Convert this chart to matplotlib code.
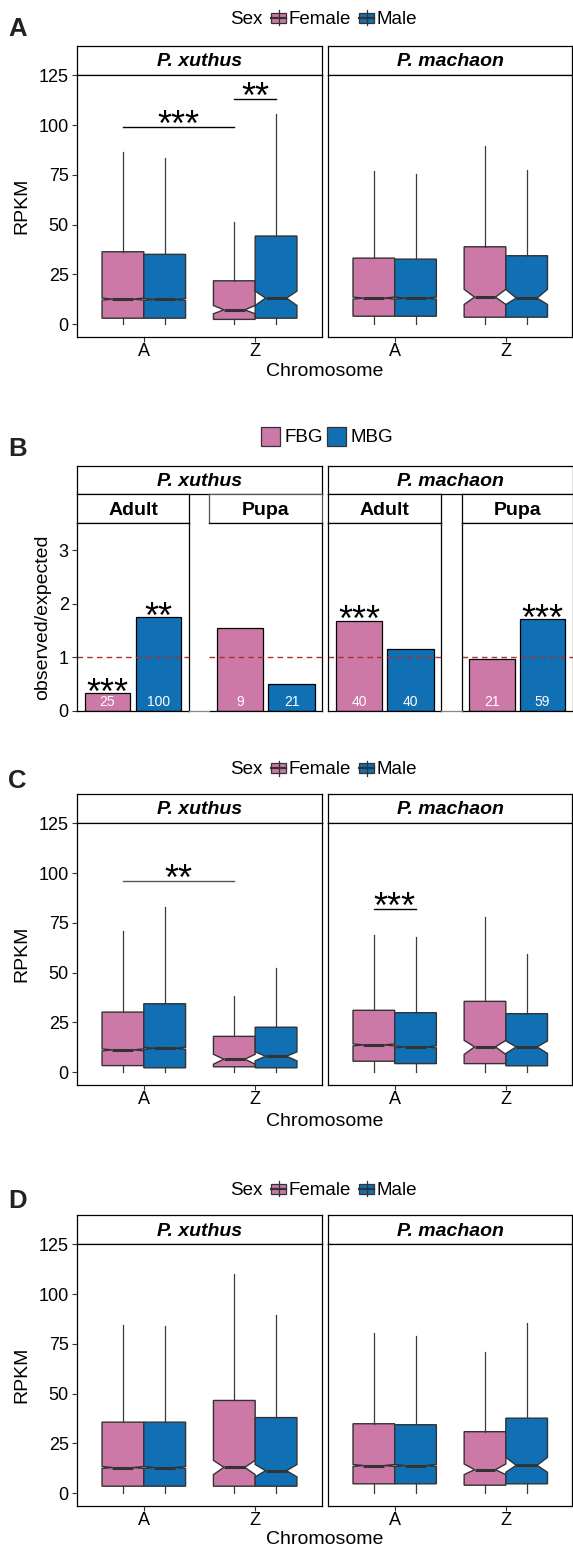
import matplotlib
matplotlib.use('Agg')
import matplotlib.pyplot as plt
from matplotlib.patches import Rectangle

plt.rcParams['font.family'] = ['Liberation Sans', 'DejaVu Sans']

# ---------------- data ----------------
chrom_labels = ['A', 'Z']
sex_labels = ['Female', 'Male']
species_names = ['P. xuthus', 'P. machaon']
stage_names = ['Adult', 'Pupa']
group_labels = ['FBG', 'MBG']
rpkm_ticks = [0, 25, 50, 75, 100, 125]
ratio_ticks = [0, 1, 2, 3]

# box order: A-Female, A-Male, Z-Female, Z-Male
# Panel A
A_xuthus_low = [0, 0, 0, 0]
A_xuthus_q1 = [3.0, 3.0, 2.4, 3.0]
A_xuthus_med = [12.6, 12.4, 7.2, 13.1]
A_xuthus_q3 = [36.4, 35.1, 21.8, 44.3]
A_xuthus_high = [86.3, 83.4, 51.2, 105.7]
A_xuthus_ci_lo = [12.1, 11.9, 5.2, 9.4]
A_xuthus_ci_hi = [13.1, 12.9, 9.4, 16.6]

A_machaon_low = [0, 0, 0, 0]
A_machaon_q1 = [4.0, 4.0, 3.5, 3.5]
A_machaon_med = [13.1, 13.1, 13.6, 13.1]
A_machaon_q3 = [33.2, 32.7, 38.9, 34.4]
A_machaon_high = [77.0, 75.7, 89.8, 77.7]
A_machaon_ci_lo = [12.6, 12.6, 9.9, 9.9]
A_machaon_ci_hi = [13.6, 13.6, 17.5, 17.5]

# Panel C
C_xuthus_low = [0, 0, 0, 0]
C_xuthus_q1 = [3.3, 2.2, 2.7, 2.2]
C_xuthus_med = [11.2, 12.0, 6.5, 8.0]
C_xuthus_q3 = [30.2, 34.4, 18.0, 22.6]
C_xuthus_high = [70.9, 83.2, 38.1, 52.3]
C_xuthus_ci_lo = [10.7, 11.5, 4.0, 5.7]
C_xuthus_ci_hi = [11.7, 12.5, 9.0, 10.2]

C_machaon_low = [0, 0, 0, 0]
C_machaon_q1 = [5.5, 4.3, 4.3, 3.2]
C_machaon_med = [13.7, 12.7, 12.7, 12.7]
C_machaon_q3 = [31.1, 29.9, 35.6, 29.4]
C_machaon_high = [68.7, 67.8, 77.9, 59.5]
C_machaon_ci_lo = [13.2, 12.2, 8.9, 9.4]
C_machaon_ci_hi = [14.2, 13.2, 16.0, 15.7]

# Panel D
D_xuthus_low = [0, 0, 0, 0]
D_xuthus_q1 = [3.5, 3.5, 3.5, 3.5]
D_xuthus_med = [12.9, 12.9, 13.0, 11.3]
D_xuthus_q3 = [35.7, 35.7, 46.6, 38.0]
D_xuthus_high = [84.3, 83.9, 110.0, 89.6]
D_xuthus_ci_lo = [12.4, 12.4, 9.3, 8.2]
D_xuthus_ci_hi = [13.4, 13.4, 16.5, 14.4]

D_machaon_low = [0, 0, 0, 0]
D_machaon_q1 = [4.7, 4.7, 4.0, 4.7]
D_machaon_med = [13.9, 13.9, 11.8, 14.0]
D_machaon_q3 = [34.9, 34.4, 30.9, 37.7]
D_machaon_high = [80.3, 78.8, 70.8, 85.6]
D_machaon_ci_lo = [13.4, 13.4, 9.3, 10.5]
D_machaon_ci_hi = [14.4, 14.4, 14.7, 18.0]

# significance brackets: (box i, box j, line height, label)
A_xuthus_sig = [(0, 2, 99.0, '***'), (2, 3, 113.2, '**')]
A_machaon_sig = []
C_xuthus_sig = [(0, 2, 96.3, '**')]
C_machaon_sig = [(0, 1, 82.2, '***')]
D_xuthus_sig = []
D_machaon_sig = []

# Panel B: observed/expected (FBG, MBG)
B_xuthus_adult = [0.33, 1.75]
B_xuthus_pupa = [1.55, 0.51]
B_machaon_adult = [1.68, 1.16]
B_machaon_pupa = [0.97, 1.71]
B_xuthus_adult_n = [25, 100]
B_xuthus_pupa_n = [9, 21]
B_machaon_adult_n = [40, 40]
B_machaon_pupa_n = [21, 59]
B_xuthus_adult_sig = ['***', '**']
B_xuthus_pupa_sig = ['', '']
B_machaon_adult_sig = ['***', '']
B_machaon_pupa_sig = ['', '***']
B_expected = 1.0

# ---------------- style ----------------
PINK = '#CC79A7'
BLUE = '#1170B3'
EDGE = '#333333'
FS_TICK = 13
FS_TITLE = 14
FS_STRIP = 14
FS_LEG = 13.5
W, H = 573, 1547
fig = plt.figure(figsize=(W / 100, H / 100), dpi=100)


def ax_at(x0, y0, x1, y1):
    return fig.add_axes([x0 / W, 1 - y1 / H, (x1 - x0) / W, (y1 - y0) / H])


def style_frame(ax, color='black', lw=0.9):
    for sp in ax.spines.values():
        sp.set_color(color)
        sp.set_linewidth(lw)


def strip(x0, y0, x1, y1, text, italic=True, color='black'):
    s = ax_at(x0, y0, x1, y1)
    s.set_xticks([])
    s.set_yticks([])
    style_frame(s, color)
    s.text(0.5, 0.5, text, ha='center', va='center_baseline', fontsize=FS_STRIP,
           fontweight='bold', style='italic' if italic else 'normal',
           transform=s.transAxes)
    return s


def stars(ax, x, y, label, dy_px):
    # asterisk ink centre dy_px pixels above y (the glyph sits high in its em box)
    size = 26
    off = (dy_px - 0.585 * size / 0.72) * 0.72
    ax.annotate(label, (x, y), xytext=(0, off), textcoords='offset points',
                ha='center', va='baseline', fontsize=size,
                annotation_clip=False)


BOX_POS = [1 - 0.1875, 1 + 0.1875, 2 - 0.1875, 2 + 0.1875]


def box_panel(x0, y0, x1, y1, low, q1, med, q3, high, cilo, cihi, sig, show_y, sig_color):
    ax = ax_at(x0, y0, x1, y1)
    stats = []
    for i in range(4):
        stats.append(dict(whislo=low[i], q1=q1[i], med=med[i], q3=q3[i],
                          whishi=high[i], cilo=cilo[i], cihi=cihi[i], fliers=[]))
    bp = ax.bxp(stats, positions=BOX_POS, widths=0.375, shownotches=True,
                showcaps=False, showfliers=False, patch_artist=True,
                boxprops=dict(edgecolor=EDGE, linewidth=1.0),
                whiskerprops=dict(color='#3a3a3a', linewidth=0.9),
                medianprops=dict(color=EDGE, linewidth=2.2))
    for patch, c in zip(bp['boxes'], [PINK, BLUE, PINK, BLUE]):
        patch.set_facecolor(c)
    ax.set_xlim(0.4, 2.6)
    ax.set_ylim(-6.2, 125.5)
    ax.set_xticks([1, 2])
    ax.set_xticklabels(chrom_labels)
    ax.tick_params(axis='x', length=3.5, width=0.8, color=EDGE, pad=1.0, labelsize=FS_TICK)
    if show_y:
        ax.set_yticks(rpkm_ticks)
        ax.set_yticklabels([str(t) for t in rpkm_ticks])
        ax.tick_params(axis='y', length=3.5, width=0.8, color=EDGE, pad=2.5, labelsize=FS_TICK)
    else:
        ax.set_yticks([])
    style_frame(ax)
    for (i, j, yl, lab) in sig:
        ax.plot([BOX_POS[i], BOX_POS[j]], [yl, yl], color=sig_color, lw=1.0)
        stars(ax, (BOX_POS[i] + BOX_POS[j]) / 2, yl, lab, 12)
    return ax


def box_figure(top, data_x, data_m, col_x='black', col_m='black'):
    st_b = top + 29
    bot = st_b + 262
    strip(77, top, 322, st_b, species_names[0])
    strip(328, top, 572.5, st_b, species_names[1])
    box_panel(77, st_b, 322, bot, *data_x, show_y=True, sig_color=col_x)
    box_panel(328, st_b, 572.5, bot, *data_m, show_y=False, sig_color=col_m)
    return st_b, bot


# Panel A
a_sb, a_bot = box_figure(45.5,
                         (A_xuthus_low, A_xuthus_q1, A_xuthus_med, A_xuthus_q3, A_xuthus_high,
                          A_xuthus_ci_lo, A_xuthus_ci_hi, A_xuthus_sig),
                         (A_machaon_low, A_machaon_q1, A_machaon_med, A_machaon_q3, A_machaon_high,
                          A_machaon_ci_lo, A_machaon_ci_hi, A_machaon_sig))
# Panel C
c_sb, c_bot = box_figure(793.5,
                         (C_xuthus_low, C_xuthus_q1, C_xuthus_med, C_xuthus_q3, C_xuthus_high,
                          C_xuthus_ci_lo, C_xuthus_ci_hi, C_xuthus_sig),
                         (C_machaon_low, C_machaon_q1, C_machaon_med, C_machaon_q3, C_machaon_high,
                          C_machaon_ci_lo, C_machaon_ci_hi, C_machaon_sig),
                         col_x='#555555')
# Panel D
d_sb, d_bot = box_figure(1214.5,
                         (D_xuthus_low, D_xuthus_q1, D_xuthus_med, D_xuthus_q3, D_xuthus_high,
                          D_xuthus_ci_lo, D_xuthus_ci_hi, D_xuthus_sig),
                         (D_machaon_low, D_machaon_q1, D_machaon_med, D_machaon_q3, D_machaon_high,
                          D_machaon_ci_lo, D_machaon_ci_hi, D_machaon_sig))

# Panel B
B_TOP = 465.5
B_S1 = 494
B_S2 = 523.3
B_BOT = 711


def bar_panel(x0, x1, vals, ns, sigs, show_y, hide_left=False):
    ax = ax_at(x0, B_S2, x1, B_BOT)
    ax.bar([1, 2], vals, width=0.9, color=[PINK, BLUE], edgecolor='black', linewidth=0.9)
    ax.set_xlim(0.4, 2.6)
    ax.set_ylim(0, 3.5)
    ax.axhline(B_expected, color='#A83232', lw=1.0, dashes=(4, 3))
    ax.set_xticks([])
    if show_y:
        ax.set_yticks(ratio_ticks)
        ax.set_yticklabels([str(t) for t in ratio_ticks])
        ax.tick_params(axis='y', length=3.5, width=0.8, color=EDGE, pad=2.5, labelsize=FS_TICK)
    else:
        ax.set_yticks([])
    style_frame(ax)
    if hide_left:
        ax.spines['left'].set_visible(False)
    for k in range(2):
        ax.text(k + 1, 0.16, str(ns[k]), ha='center', va='center', color='white', fontsize=10)
        if sigs[k]:
            stars(ax, k + 1, vals[k], sigs[k], 10.7)
    return ax


strip(77, B_TOP, 322.4, B_S1, species_names[0])
strip(328.3, B_TOP, 572.5, B_S1, species_names[1])
strip(77, B_S1, 189, B_S2, stage_names[0], italic=False)
strip(209.4, B_S1, 322.4, B_S2, stage_names[1], italic=False, color='#555555')
strip(328.3, B_S1, 441.3, B_S2, stage_names[0], italic=False)
strip(461.7, B_S1, 572.5, B_S2, stage_names[1], italic=False)
bar_panel(77, 189, B_xuthus_adult, B_xuthus_adult_n, B_xuthus_adult_sig, True)
bar_panel(209.4, 322.4, B_xuthus_pupa, B_xuthus_pupa_n, B_xuthus_pupa_sig, False, hide_left=True)
bar_panel(328.3, 441.3, B_machaon_adult, B_machaon_adult_n, B_machaon_adult_sig, False)
bar_panel(461.7, 572.5, B_machaon_pupa, B_machaon_pupa_n, B_machaon_pupa_sig, False)

# ---------------- overlay: legends, labels ----------------
ov = fig.add_axes([0, 0, 1, 1], zorder=10)
ov.set_xlim(0, W)
ov.set_ylim(H, 0)
ov.axis('off')

# gap baselines in B
ov.plot([189, 209.4], [B_BOT, B_BOT], color='#888888', lw=0.9)
ov.plot([441.3, 461.7], [B_BOT, B_BOT], color='#888888', lw=0.9)

# panel letters
for lab, y in [('A', 26), ('B', 446), ('C', 778), ('D', 1199)]:
    ov.text(8, y, lab, fontsize=18.5, fontweight='bold', ha='left', va='center_baseline', color='#222222')


def box_key(x, yc, color):
    ov.plot([x + 7.5, x + 7.5], [yc - 7.5, yc + 7.5], color=EDGE, lw=0.9)
    ov.add_patch(Rectangle((x, yc - 5), 15, 10, facecolor=color, edgecolor=EDGE, lw=0.9))
    ov.plot([x, x + 15], [yc, yc], color=EDGE, lw=1.6)


def sex_legend(yc):
    ov.text(230, yc, 'Sex', fontsize=FS_LEG, ha='left', va='center_baseline')
    box_key(271, yc, PINK)
    ov.text(289, yc, sex_labels[0], fontsize=FS_LEG, ha='left', va='center_baseline')
    box_key(359, yc, BLUE)
    ov.text(377, yc, sex_labels[1], fontsize=FS_LEG, ha='left', va='center_baseline')


sex_legend(17.5)
sex_legend(768)
sex_legend(1188.5)

# B legend
ov.add_patch(Rectangle((261, 427), 19, 18.5, facecolor=PINK, edgecolor='#333333', lw=0.9))
ov.text(284, 436, group_labels[0], fontsize=FS_LEG, ha='left', va='center_baseline')
ov.add_patch(Rectangle((327, 427), 19, 18.5, facecolor=BLUE, edgecolor='#333333', lw=0.9))
ov.text(350, 436, group_labels[1], fontsize=FS_LEG, ha='left', va='center_baseline')

# axis titles
for yc in [(a_sb + a_bot) / 2, (c_sb + c_bot) / 2, (d_sb + d_bot) / 2]:
    ov.text(22, yc, 'RPKM', fontsize=FS_TITLE, rotation=90, ha='center', va='center')
ov.text(43, (B_S2 + B_BOT) / 2, 'observed/expected', fontsize=FS_TITLE, rotation=90, ha='center', va='center')
for yc in [369, 1119, 1538]:
    ov.text(325, yc, 'Chromosome', fontsize=FS_TITLE, ha='center', va='center_baseline')

fig.savefig('out.png', dpi=100)
